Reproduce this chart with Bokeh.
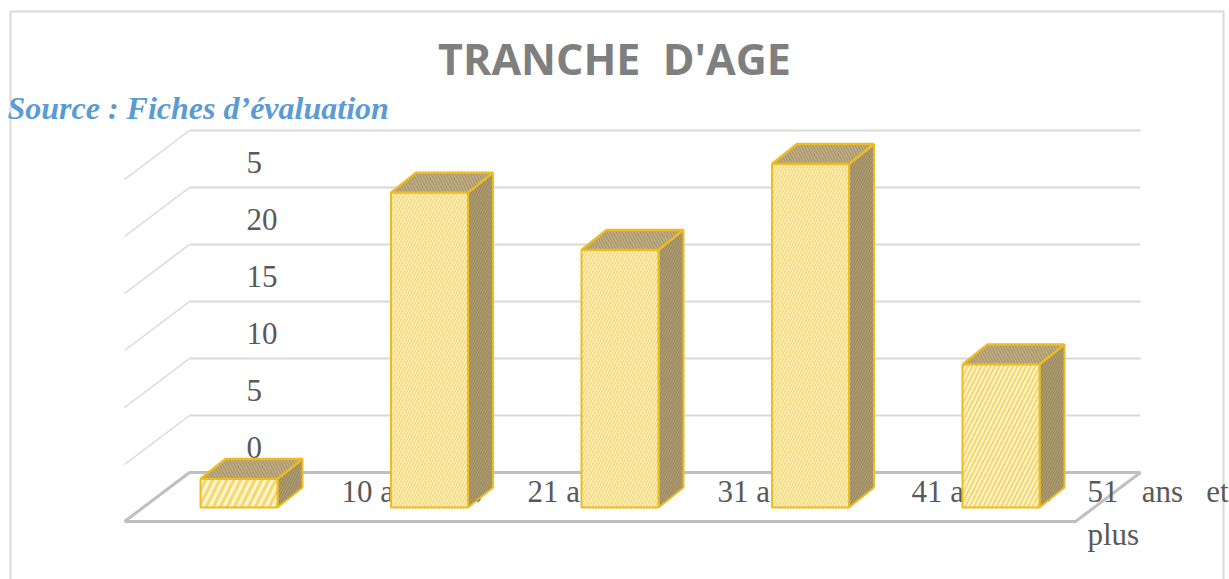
from bokeh.plotting import figure
from bokeh.models import Range1d
from bokeh.core.properties import value
from bokeh.embed import file_html
from bokeh.resources import INLINE

# ---- data ----
bar_values = [2.5, 27.5, 22.5, 30, 12.5]
grid_values = [0, 5, 10, 15, 20, 25, 30]
y_tick_values = [0, 5, 10, 15, 20, 25]
y_tick_labels = ["0", "5", "10", "15", "20", "5"]
category_labels = ["10 a 20 ans", "21 a 30 ans", "31 a 40 ans", "41 a 50 ans"]
last_label_lines = ["51\u00a0\u00a0\u00a0ans\u00a0\u00a0\u00a0et", "plus"]
title_text = "TRANCHE\u00a0\u00a0D'AGE"
source_text = "Source : Fiches d\u2019évaluation"

# ---- layout (pixels of the window) ----
W, H = 1229, 579
CAT_PX, UNIT_PX = 190.5, 11.45
C0_PX, BASE_PX = 238.5, 507
BAR_W = 77 / CAT_PX
DX, DY = 25 / CAT_PX, 20 / UNIT_PX   # bar depth
WALL_DX, WALL_DY = 65 / CAT_PX, 49 / UNIT_PX


def X(px):
    return (px - C0_PX) / CAT_PX


def Y(py):
    return (BASE_PX - py) / UNIT_PX


p = figure(width=W, height=H, output_backend="svg", toolbar_location=None,
           x_range=Range1d(X(0), X(W)), y_range=Range1d(Y(H), Y(0)),
           x_axis_location=None, y_axis_location=None, min_border=0,
           outline_line_color=None, background_fill_color="white",
           border_fill_color="white",
           styles={"position": "absolute", "left": "0px", "top": "0px"})
p.xgrid.visible = False
p.ygrid.visible = False

UNDER = "underlay"
# chart frame
FRAME = "#d9d9d9"
p.line([X(10), X(10), X(1223), X(1223)], [Y(H), Y(11), Y(11), Y(H)],
       line_color=FRAME, line_width=2, level=UNDER)

# back wall grid + side wall
back_y0 = Y(472)
back_l, back_r = X(189), X(1140)
for g in grid_values[1:]:
    yy = back_y0 + g * 57 / 5 / UNIT_PX
    p.line([back_l, back_r], [yy, yy], line_color="#d9d9d9", line_width=2, level=UNDER)
    p.line([back_l - WALL_DX, back_l], [yy - WALL_DY, yy], line_color="#d9d9d9",
           line_width=1.5, level=UNDER)

# floor
fy = back_y0 - WALL_DY
p.line([back_l - WALL_DX, back_l, back_r, back_r - WALL_DX, back_l - WALL_DX],
       [fy, back_y0, back_y0, fy, fy], line_color="#bfbfbf", line_width=3, level=UNDER)

SERIF = value("Liberation Serif")
TXT = "#595959"
# category labels (partly hidden by the bars, as in the source)
label_left = [341, 527, 717, 911]
p.text([X(v) for v in label_left], [Y(491)] * 4, text=category_labels, text_font=SERIF,
       text_font_size="31px", text_color=TXT, text_baseline="alphabetic", text_align="left",
       level=UNDER)
p.text([X(1087), X(1087)], [Y(491), Y(534)], text=last_label_lines, text_font=SERIF,
       text_font_size="31px", text_color=TXT, text_baseline="alphabetic", text_align="left",
       level=UNDER)

# value labels
p.text([X(246)] * len(y_tick_values),
       [Y(447) + v * 57 / 5 / UNIT_PX for v in y_tick_values],
       text=y_tick_labels, text_font=SERIF, text_font_size="31px", text_color=TXT,
       text_baseline="alphabetic", text_align="left", level=UNDER)

# 3-D bars
EDGE = "#ecbc22"
xs = list(range(len(bar_values)))
front_scale = [14, 6, 6, 6, 9]
front_weight = [3, 1.5, 1.5, 1.5, 2]
for i, v in zip(xs, bar_values):
    l, r = i - BAR_W / 2, i + BAR_W / 2
    p.patch([r, r + DX, r + DX, r], [0, DY, v + DY, v], fill_color="#ac9a70", line_color=EDGE,
            line_width=2, hatch_pattern="right_diagonal_line", hatch_color="#99885f",
            hatch_scale=5, hatch_weight=1)
    p.patch([l, l + DX, r + DX, r], [v, v + DY, v + DY, v], fill_color="#bcaa84", line_color=EDGE,
            line_width=2.5, hatch_pattern="left_diagonal_line", hatch_color="#a8945f",
            hatch_scale=6, hatch_weight=1)
    p.quad(left=[l], right=[r], bottom=[0], top=[v], fill_color="#fdf4cc", line_color=EDGE,
           line_width=2, hatch_pattern="right_diagonal_line", hatch_color="#f4d76e",
           hatch_scale=front_scale[i], hatch_weight=front_weight[i])

# title + source
p.text([X(614)], [Y(58)], text=[title_text], text_font=value("Open Sans"),
       text_font_style="bold", text_font_size="43px", text_color="#7f7f7f",
       text_align="center", text_baseline="alphabetic")
p.text([X(7)], [Y(107)], text=[source_text], text_font=SERIF, text_font_style="bold italic",
       text_font_size="32px", text_color="#5b9bd5", text_align="left", text_baseline="alphabetic")

open("out.html", "w").write(file_html(p, INLINE))
